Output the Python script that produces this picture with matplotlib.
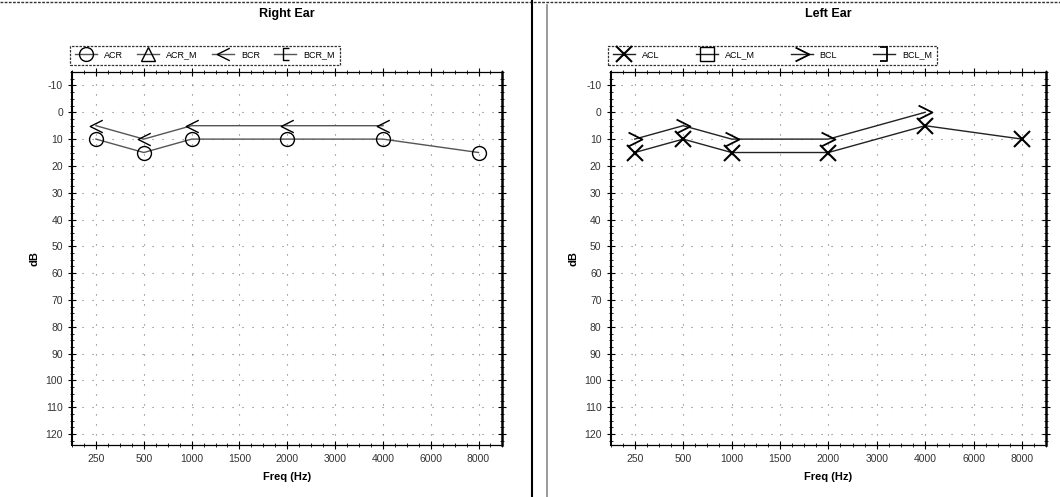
import matplotlib
matplotlib.use("Agg")
import matplotlib.pyplot as plt
from matplotlib.path import Path
from matplotlib.lines import Line2D
from matplotlib.ticker import MultipleLocator, FixedLocator

FREQ_LABELS = ["250", "500", "1000", "1500", "2000", "3000", "4000", "6000", "8000"]
DB_TICKS = [-10, 0, 10, 20, 30, 40, 50, 60, 70, 80, 90, 100, 110, 120]

# right ear (positions index into FREQ_LABELS)
ACR_X = [0, 1, 2, 4, 6, 8]
ACR_Y = [10, 15, 10, 10, 10, 15]
BCR_X = [0, 1, 2, 4, 6]
BCR_Y = [5, 10, 5, 5, 5]

# left ear
ACL_X = [0, 1, 2, 4, 6, 8]
ACL_Y = [15, 10, 15, 15, 5, 10]
BCL_X = [0, 1, 2, 4, 6]
BCL_Y = [10, 5, 10, 10, 0]

LT = Path([(1, 1), (-1, 0), (1, -1)], [Path.MOVETO, Path.LINETO, Path.LINETO])
GT = Path([(-1, 1), (1, 0), (-1, -1)], [Path.MOVETO, Path.LINETO, Path.LINETO])
LBR = Path([(0.6, 1), (-0.4, 1), (-0.4, -1), (0.6, -1)],
           [Path.MOVETO, Path.LINETO, Path.LINETO, Path.LINETO])
RBR = Path([(-0.6, 1), (0.4, 1), (0.4, -1), (-0.6, -1)],
           [Path.MOVETO, Path.LINETO, Path.LINETO, Path.LINETO])

plt.rcParams["font.family"] = ["Liberation Sans", "DejaVu Sans"]

fig = plt.figure(figsize=(10.6, 4.97), dpi=100)
axL = fig.add_axes([0.068, 0.105, 0.406, 0.750])
axR = fig.add_axes([0.576, 0.105, 0.411, 0.750])

LINE_C = "#555555"


def style(ax, title):
    ax.set_xlim(-0.5, 8.5)
    ax.set_ylim(124, -15)
    ax.set_xticks(range(len(FREQ_LABELS)))
    ax.set_xticklabels(FREQ_LABELS, fontsize=7.5, color="#333333")
    ax.set_yticks(DB_TICKS)
    ax.set_yticklabels([str(v) for v in DB_TICKS], fontsize=7.5, color="#333333")
    ax.xaxis.set_minor_locator(FixedLocator([i * 0.25 - 0.5 for i in range(37)]))
    ax.yaxis.set_minor_locator(MultipleLocator(2.5))
    ax.tick_params(which="major", direction="inout", length=6, width=0.8,
                   top=True, right=True)
    ax.tick_params(which="minor", direction="inout", length=3, width=0.6,
                   top=True, right=True)
    ax.grid(True, which="major", color="#777777", lw=0.8, linestyle=(0, (1, 8)))
    for s in ["top", "bottom"]:
        ax.spines[s].set_linestyle((0, (2, 1)))
        ax.spines[s].set_linewidth(0.9)
    ax.spines["left"].set_linewidth(1.5)
    ax.spines["right"].set_linewidth(1.8)
    ax.set_xlabel("Freq (Hz)", fontsize=8, fontweight="bold", labelpad=6)
    ax.set_ylabel("dB", fontsize=8, fontweight="bold", labelpad=4)
    ax.set_title(title, fontsize=9, fontweight="bold", pad=40)


# Right ear
axL.plot(ACR_X, ACR_Y, color=LINE_C, lw=1, marker="o", ms=10, mfc="none",
         mec="black", mew=1, label="ACR")
axL.plot([], [], color=LINE_C, lw=1, marker="^", ms=10, mfc="none",
         mec="black", mew=1, label="ACR_M")
axL.plot(BCR_X, BCR_Y, color=LINE_C, lw=1, marker=LT, ms=9, mfc="none",
         mec="black", mew=1, label="BCR")
axL.plot([], [], color=LINE_C, lw=1, marker=LBR, ms=9, mfc="none",
         mec="black", mew=1, label="BCR_M")
style(axL, "Right Ear")

# Left ear
axR.plot(ACL_X, ACL_Y, color="#222222", lw=1, marker="x", ms=12,
         mec="black", mew=1.5, label="ACL")
axR.plot([], [], color="#222222", lw=1, marker="s", ms=10, mfc="none",
         mec="black", mew=1, label="ACL_M")
axR.plot(BCL_X, BCL_Y, color="#222222", lw=1, marker=GT, ms=10, mfc="none",
         mec="black", mew=1.3, label="BCL")
axR.plot([], [], color="#222222", lw=1, marker=RBR, ms=10, mfc="none",
         mec="black", mew=1.3, label="BCL_M")
style(axR, "Left Ear")

for ax, spacing in ((axL, 1.6), (axR, 4.0)):
    leg = ax.legend(loc="lower left", bbox_to_anchor=(-0.005, 1.02), ncol=4,
                    fontsize=6.5, frameon=True, fancybox=False, edgecolor="black",
                    borderpad=0.55, handlelength=2.4, handletextpad=0.8,
                    columnspacing=spacing, borderaxespad=0)
    leg.get_frame().set_linestyle((0, (2, 1)))
    leg.get_frame().set_linewidth(0.9)

# page-like separators
fig.add_artist(Line2D([0, 1], [0.996, 0.996], color="#333333", lw=1,
                      linestyle=(0, (2, 1)), transform=fig.transFigure))
fig.add_artist(Line2D([0.502, 0.502], [0, 1], color="black", lw=1.5,
                      transform=fig.transFigure))
fig.add_artist(Line2D([0.516, 0.516], [0, 0.99], color="#888888", lw=1.2,
                      transform=fig.transFigure))

fig.savefig("out.png", dpi=100)
